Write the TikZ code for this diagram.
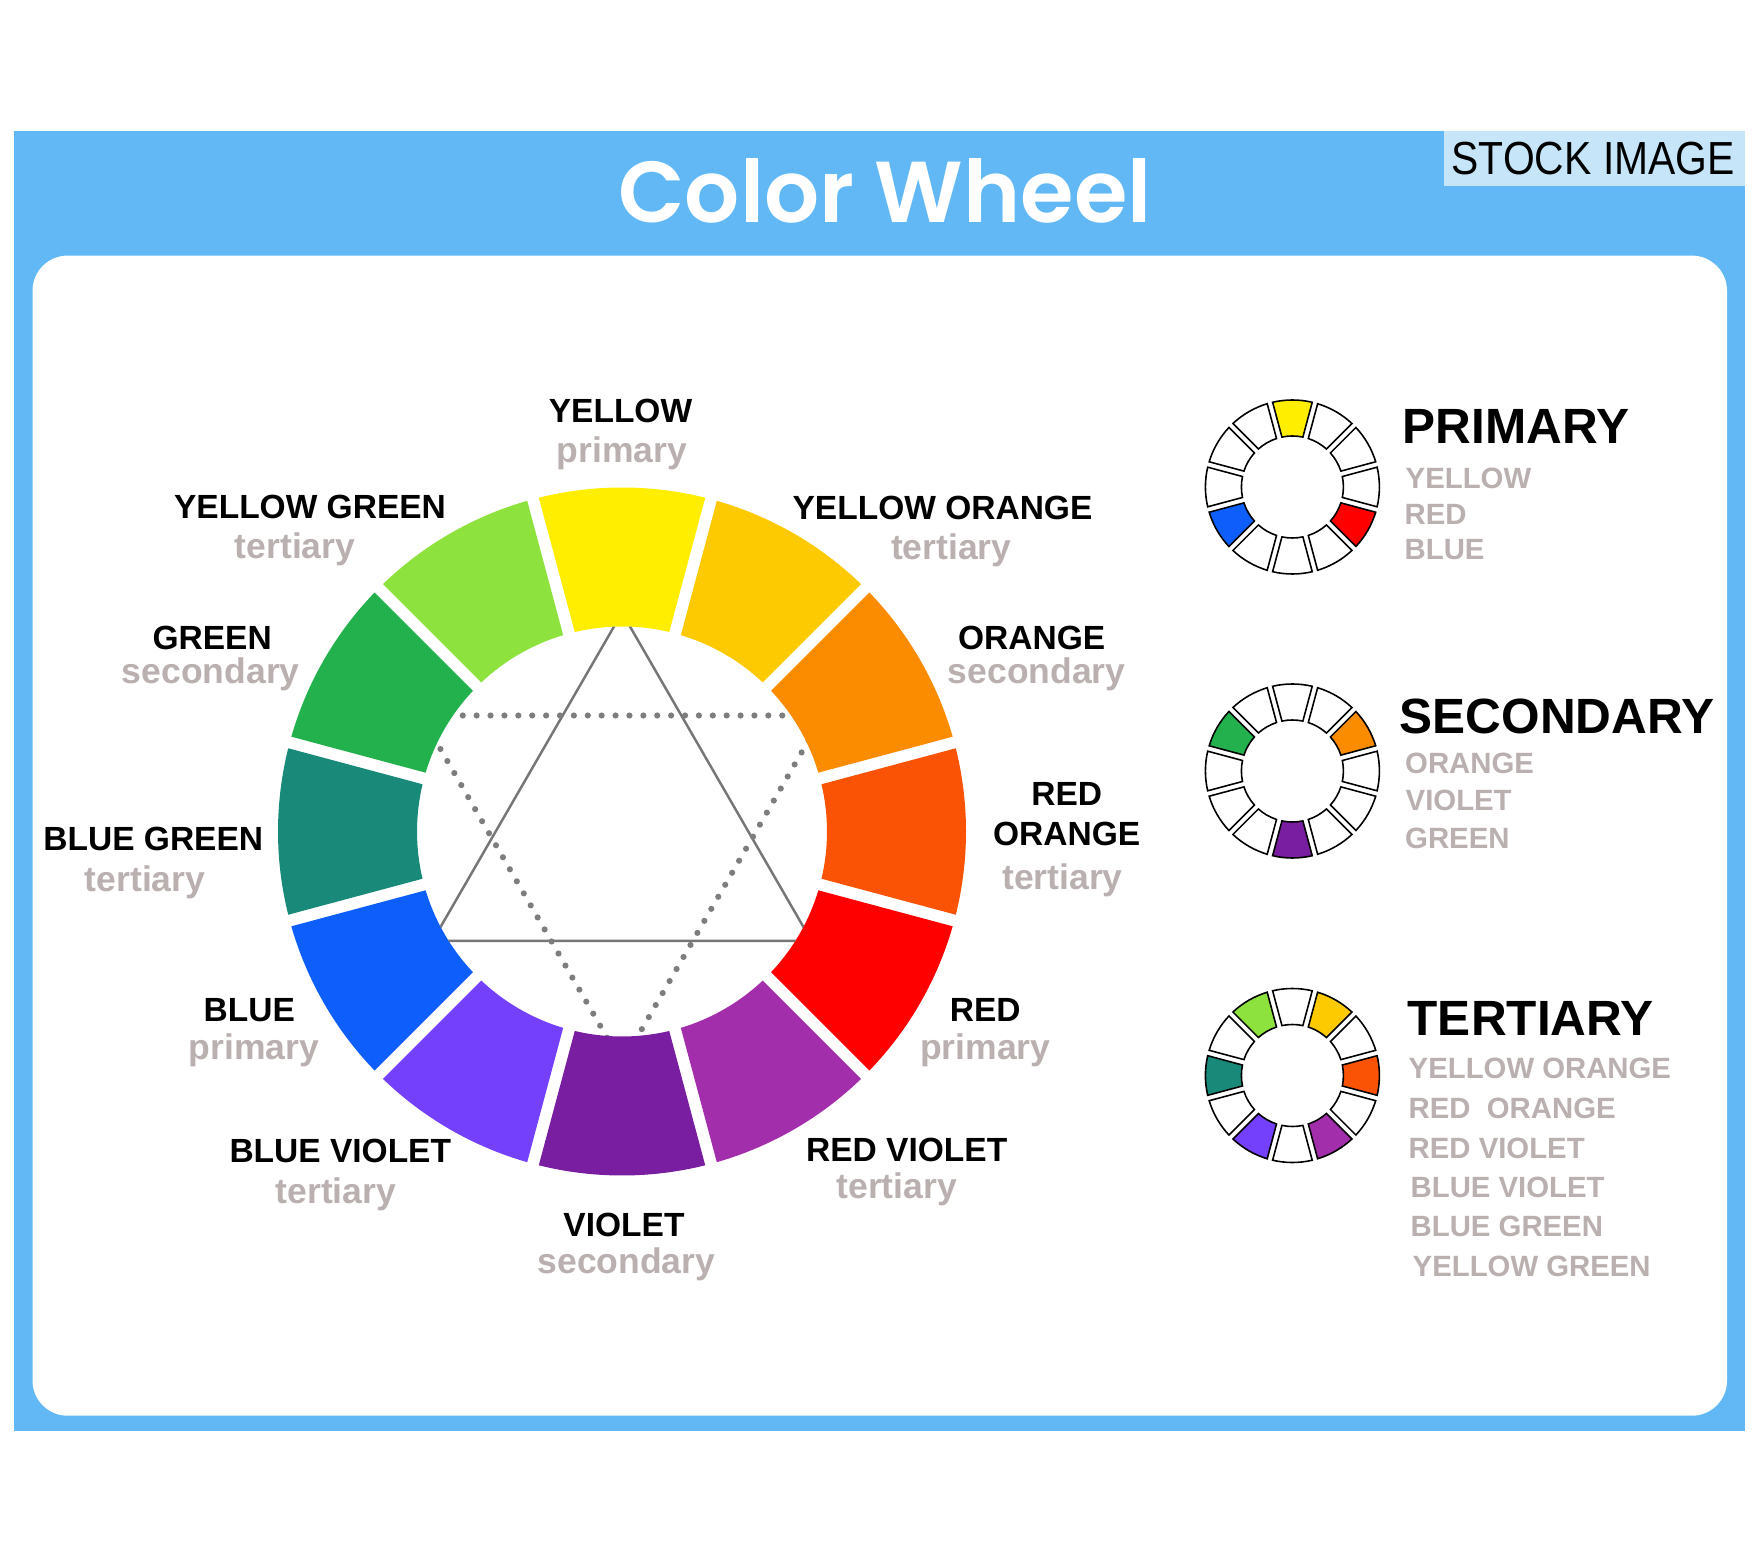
\documentclass[tikz,border=0pt]{standalone}
\usepackage{fontspec}
\setmainfont{Liberation Sans}
\newfontfamily\titlefont{Poppins}[UprightFont=* SemiBold]
\newfontfamily\stockfont[FakeStretch=0.88]{Liberation Sans}

\definecolor{bandblue}{RGB}{97,184,245}
\definecolor{stockbg}{RGB}{198,229,249}
\definecolor{greytxt}{RGB}{186,176,176}
\definecolor{triline}{RGB}{118,118,118}
\definecolor{tridot}{RGB}{125,125,125}
\definecolor{cY}{RGB}{255,238,0}
\definecolor{cYO}{RGB}{253,202,2}
\definecolor{cO}{RGB}{251,140,0}
\definecolor{cRO}{RGB}{250,83,5}
\definecolor{cR}{RGB}{255,0,0}
\definecolor{cRV}{RGB}{163,46,171}
\definecolor{cV}{RGB}{121,30,160}
\definecolor{cBV}{RGB}{117,64,251}
\definecolor{cB}{RGB}{13,94,250}
\definecolor{cBG}{RGB}{25,137,122}
\definecolor{cG}{RGB}{35,177,77}
\definecolor{cYG}{RGB}{141,226,62}

% #1 cx, #2 cy, #3 centre angle, #4 outer R, #5 inner r, #6 half gap, #7 path options
\newcommand{\ringseg}[7]{%
  \pgfmathsetmacro\segAR{asin(#6/#4)}%
  \pgfmathsetmacro\segAr{asin(#6/#5)}%
  \pgfmathsetmacro\segSA{#3-15+\segAR}%
  \pgfmathsetmacro\segEA{#3+15-\segAR}%
  \pgfmathsetmacro\segSa{#3+15-\segAr}%
  \pgfmathsetmacro\segEa{#3-15+\segAr}%
  \path[shift={(#1,#2)},#7] (\segSA:#4) arc[start angle=\segSA, end angle=\segEA, radius=#4]
     -- (\segSa:#5) arc[start angle=\segSa, end angle=\segEa, radius=#5] -- cycle;%
}

\tikzset{
  blab/.style={font=\bfseries\fontsize{9.53pt}{11pt}\selectfont, inner sep=0pt, anchor=base, text=black},
  glab/.style={font=\bfseries\fontsize{10.1pt}{11pt}\selectfont, inner sep=0pt, anchor=base, text=greytxt},
  headlab/.style={font=\bfseries\fontsize{14.08pt}{16pt}\selectfont, inner sep=0pt, anchor=base west, text=black},
  glist/.style={font=\bfseries\fontsize{8.34pt}{10pt}\selectfont, inner sep=0pt, anchor=base west, text=greytxt},
  smallseg/.style={draw=black, line width=0.45pt, line join=miter},
  solidtri/.style={draw=triline, line width=0.7pt},
  dottri/.style={draw=tridot, line width=1.75pt, line cap=round, dash pattern=on 0pt off 3.95pt},
}

\begin{document}
\begin{tikzpicture}[x=0.01cm, y=0.01cm]
\useasboundingbox (0,0) rectangle (1758,1563);
\fill[white] (0,0) rectangle (1758,1563);

% frame
\fill[bandblue] (13.5,132) rectangle (1745,1432);
\fill[white, rounded corners=10pt] (32.5,147.3) rectangle (1727,1307.4);
\fill[stockbg] (1444,1377) rectangle (1745,1432);
\node[inner sep=0pt, anchor=base west, font=\stockfont\fontsize{13.2pt}{14pt}\selectfont] (stock) at (1451,1388) {STOCK IMAGE};
\node[inner sep=0pt, anchor=base, text=white, font=\titlefont\fontsize{24.6pt}{30pt}\selectfont] (title) at (885,1340) {Color Wheel};

% big wheel
\foreach \ang/\col in {90/cY,60/cYO,30/cO,0/cRO,-30/cR,-60/cRV,-90/cV,-120/cBV,-150/cB,180/cBG,150/cG,120/cYG}
  {\ringseg{622}{731.5}{\ang}{344}{205}{6}{fill=\col}}

\begin{scope}
  \clip (622,731.5) circle[radius=205];
  \draw[solidtri, shift={(622,731.5)}] (90:218.8) -- (210:218.8) -- (330:218.8) -- cycle;
  \draw[dottri, shift={(622,731.5)}] (150:232) -- (30:232) -- (270:232) -- cycle;
\end{scope}

% wheel labels
\node[blab] (lY) at (620.5,1140) {YELLOW};
\node[glab] (tY) at (622,1100) {primary};
\node[blab] (lYG) at (310,1044.7) {YELLOW GREEN};
\node[glab] (tYG) at (295,1004) {tertiary};
\node[blab] (lYO) at (942.5,1043.7) {YELLOW ORANGE};
\node[glab] (tYO) at (951.2,1003) {tertiary};
\node[blab] (lG) at (212.2,913.7) {GREEN};
\node[glab] (tG) at (210.8,879) {secondary};
\node[blab] (lO) at (1031.7,913.7) {ORANGE};
\node[glab] (tO) at (1036.7,879) {secondary};
\node[blab] (lBG) at (153.3,712.3) {BLUE GREEN};
\node[glab] (tBG) at (145,672) {tertiary};
\node[blab] (lRO1) at (1066.7,758) {RED};
\node[blab] (lRO2) at (1066.7,718) {ORANGE};
\node[glab] (tRO) at (1062.5,673) {tertiary};
\node[blab] (lB) at (249.3,541.3) {BLUE};
\node[glab] (tB) at (253.8,504) {primary};
\node[blab] (lR) at (985.3,541.3) {RED};
\node[glab] (tR) at (985.3,504) {primary};
\node[blab] (lBV) at (340.3,400.3) {BLUE VIOLET};
\node[glab] (tBV) at (335.9,360) {tertiary};
\node[blab] (lRV) at (906.7,401.3) {RED VIOLET};
\node[glab] (tRV) at (896.8,365) {tertiary};
\node[blab] (lV) at (624,326.3) {VIOLET};
\node[glab] (tV) at (626.4,290) {secondary};

% small wheels
\foreach \ang/\col in {90/cY,60/white,30/white,0/white,-30/cR,-60/white,-90/white,-120/white,-150/cB,180/white,150/white,120/white}
  {\ringseg{1292.4}{1076}{\ang}{87}{51}{2.8}{smallseg, fill=\col}}
\foreach \ang/\col in {90/white,60/white,30/cO,0/white,-30/white,-60/white,-90/cV,-120/white,-150/white,180/white,150/cG,120/white}
  {\ringseg{1292.4}{792}{\ang}{87}{51}{2.8}{smallseg, fill=\col}}
\foreach \ang/\col in {90/white,60/cYO,30/white,0/cRO,-30/white,-60/cRV,-90/white,-120/cBV,-150/white,180/cBG,150/white,120/cYG}
  {\ringseg{1292.4}{487.5}{\ang}{87}{51}{2.8}{smallseg, fill=\col}}

% headings and lists
\node[headlab] (hP) at (1402,1119) {PRIMARY};
\node[glist] (p1) at (1405,1074.7) {YELLOW};
\node[glist] (p2) at (1404,1038) {RED};
\node[glist] (p3) at (1404,1003) {BLUE};

\node[headlab] (hS) at (1399,829.7) {SECONDARY};
\node[glist] (s1) at (1404.5,789) {ORANGE};
\node[glist] (s2) at (1405,752) {VIOLET};
\node[glist] (s3) at (1404.5,714.7) {GREEN};

\node[headlab] (hT) at (1407,528) {TERTIARY};
\node[glist] (t1) at (1408,484.7) {YELLOW ORANGE};
\node[glist] (t2) at (1408,444.7) {RED\ \ ORANGE};
\node[glist] (t3) at (1408,404.7) {RED VIOLET};
\node[glist] (t4) at (1410,365.7) {BLUE VIOLET};
\node[glist] (t5) at (1410,326.3) {BLUE GREEN};
\node[glist] (t6) at (1412,286.3) {YELLOW GREEN};
\end{tikzpicture}
\end{document}
